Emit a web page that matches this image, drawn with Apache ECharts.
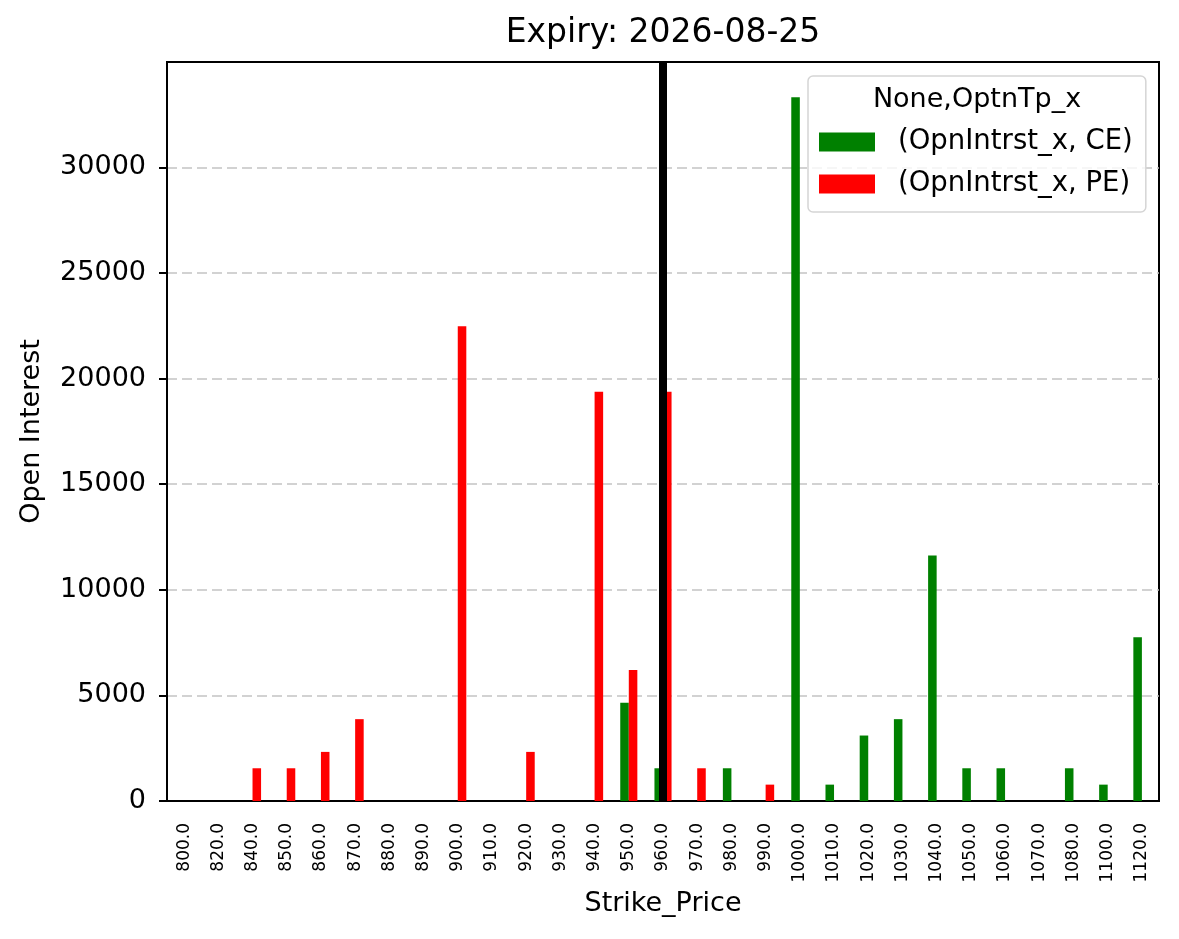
<!DOCTYPE html>
<html>
<head>
<meta charset="utf-8">
<title>Expiry: 2026-08-25</title>
<script src="https://cdn.jsdelivr.net/npm/echarts@6/dist/echarts.min.js"></script>
<style>
  html, body { margin: 0; padding: 0; background: #fff; }
  #chart { width: 1179px; height: 939px; }
</style>
</head>
<body>
<div id="chart"></div>
<script>
// strike prices on the x axis
var strikes = ['800.0', '820.0', '840.0', '850.0', '860.0', '870.0', '880.0', '890.0', '900.0', '910.0',
               '920.0', '930.0', '940.0', '950.0', '960.0', '970.0', '980.0', '990.0', '1000.0', '1010.0',
               '1020.0', '1030.0', '1040.0', '1050.0', '1060.0', '1070.0', '1080.0', '1100.0', '1120.0'];

// open interest, calls (CE)
var ceOI = [0, 0, 0, 0, 0, 0, 0, 0, 0, 0,
            0, 0, 0, 4650, 1550, 0, 1550, 0, 33325, 775,
            3100, 3875, 11625, 1550, 1550, 0, 1550, 775, 7750];

// open interest, puts (PE)
var peOI = [0, 0, 1550, 1550, 2325, 3875, 0, 0, 22475, 0,
            2325, 0, 19375, 6200, 19375, 1550, 0, 775, 0, 0,
            0, 0, 0, 0, 0, 0, 0, 0, 0];

var yTicks = [0, 5000, 10000, 15000, 20000, 25000, 30000];
var yMax = 34990;
var spotStrike = '960.0';

var font = 'DejaVu Sans';
var chart = echarts.init(document.getElementById('chart'));

var option = {
    animation: false,
    backgroundColor: '#fff',
    textStyle: { fontFamily: font, color: '#000' },
    graphic: [{
        type: 'text', x: 663, y: 33, z: 10,
        style: { text: 'Expiry: 2026-08-25', font: '33px "DejaVu Sans"', fill: '#000', align: 'center', verticalAlign: 'middle' }
    }, {
        type: 'text', x: 977, y: 100, z: 10,
        style: { text: 'None,OptnTp_x', font: '27px "DejaVu Sans"', fill: '#000', align: 'center', verticalAlign: 'middle' }
    }],
    legend: {
        orient: 'vertical',
        left: 808,
        top: 76,
        data: ['(OpnIntrst_x, CE)', '(OpnIntrst_x, PE)'],
        icon: 'rect',
        itemWidth: 56,
        itemHeight: 19,
        itemGap: 14,
        padding: [52, 13, 14, 11],
        backgroundColor: 'rgba(255,255,255,0.8)',
        borderColor: '#d5d5d5',
        borderWidth: 1.5,
        borderRadius: 5,
        selectedMode: false,
        textStyle: { fontFamily: font, fontSize: 27.5, lineHeight: 28, color: '#000', padding: [0, 0, 0, 18] }
    },
    grid: {
        left: 167, right: 20, top: 62, bottom: 138,
        show: true, borderColor: '#000', borderWidth: 2
    },
    xAxis: {
        type: 'category',
        data: strikes,
        name: 'Strike_Price',
        nameLocation: 'middle',
        nameGap: 87,
        nameTextStyle: { fontFamily: font, fontSize: 27, color: '#000' },
        axisLine: { lineStyle: { color: '#000', width: 2 } },
        axisTick: { alignWithLabel: true, interval: 0, length: 8, lineStyle: { color: '#000', width: 2 } },
        axisLabel: { interval: 0, rotate: 90, fontFamily: font, fontSize: 17, color: '#000', margin: 22 },
        splitLine: { show: false }
    },
    yAxis: {
        type: 'value',
        min: 0,
        max: yMax,
        interval: 5000,
        name: 'Open Interest',
        nameLocation: 'middle',
        nameGap: 122,
        nameTextStyle: { fontFamily: font, fontSize: 27, color: '#000' },
        axisLine: { show: true, lineStyle: { color: '#000', width: 2 } },
        axisTick: { show: true, length: 8, customValues: yTicks, lineStyle: { color: '#000', width: 2 } },
        axisLabel: {
            fontFamily: font, fontSize: 27, color: '#000', margin: 21, customValues: yTicks,
            formatter: function (v) { return String(v); }
        },
        splitLine: { lineStyle: { color: '#c4c4c4', type: [10, 5], width: 1.5 } }
    },
    series: [{
        name: '(OpnIntrst_x, CE)',
        type: 'bar',
        data: ceOI,
        barWidth: '25%',
        barGap: '0%',
        itemStyle: { color: '#008000' }
    }, {
        name: '(OpnIntrst_x, PE)',
        type: 'bar',
        data: peOI,
        barWidth: '25%',
        barGap: '0%',
        itemStyle: { color: '#ff0000' }
    }, {
        // spot strike marker, centred on the category
        name: 'spot',
        type: 'line',
        data: [],
        z: 5,
        markLine: {
            silent: true,
            symbol: ['none', 'none'],
            label: { show: false },
            lineStyle: { color: '#000', width: 8, type: 'solid' },
            data: [{ xAxis: spotStrike }]
        }
    }]
};

chart.setOption(option);
</script>
</body>
</html>
